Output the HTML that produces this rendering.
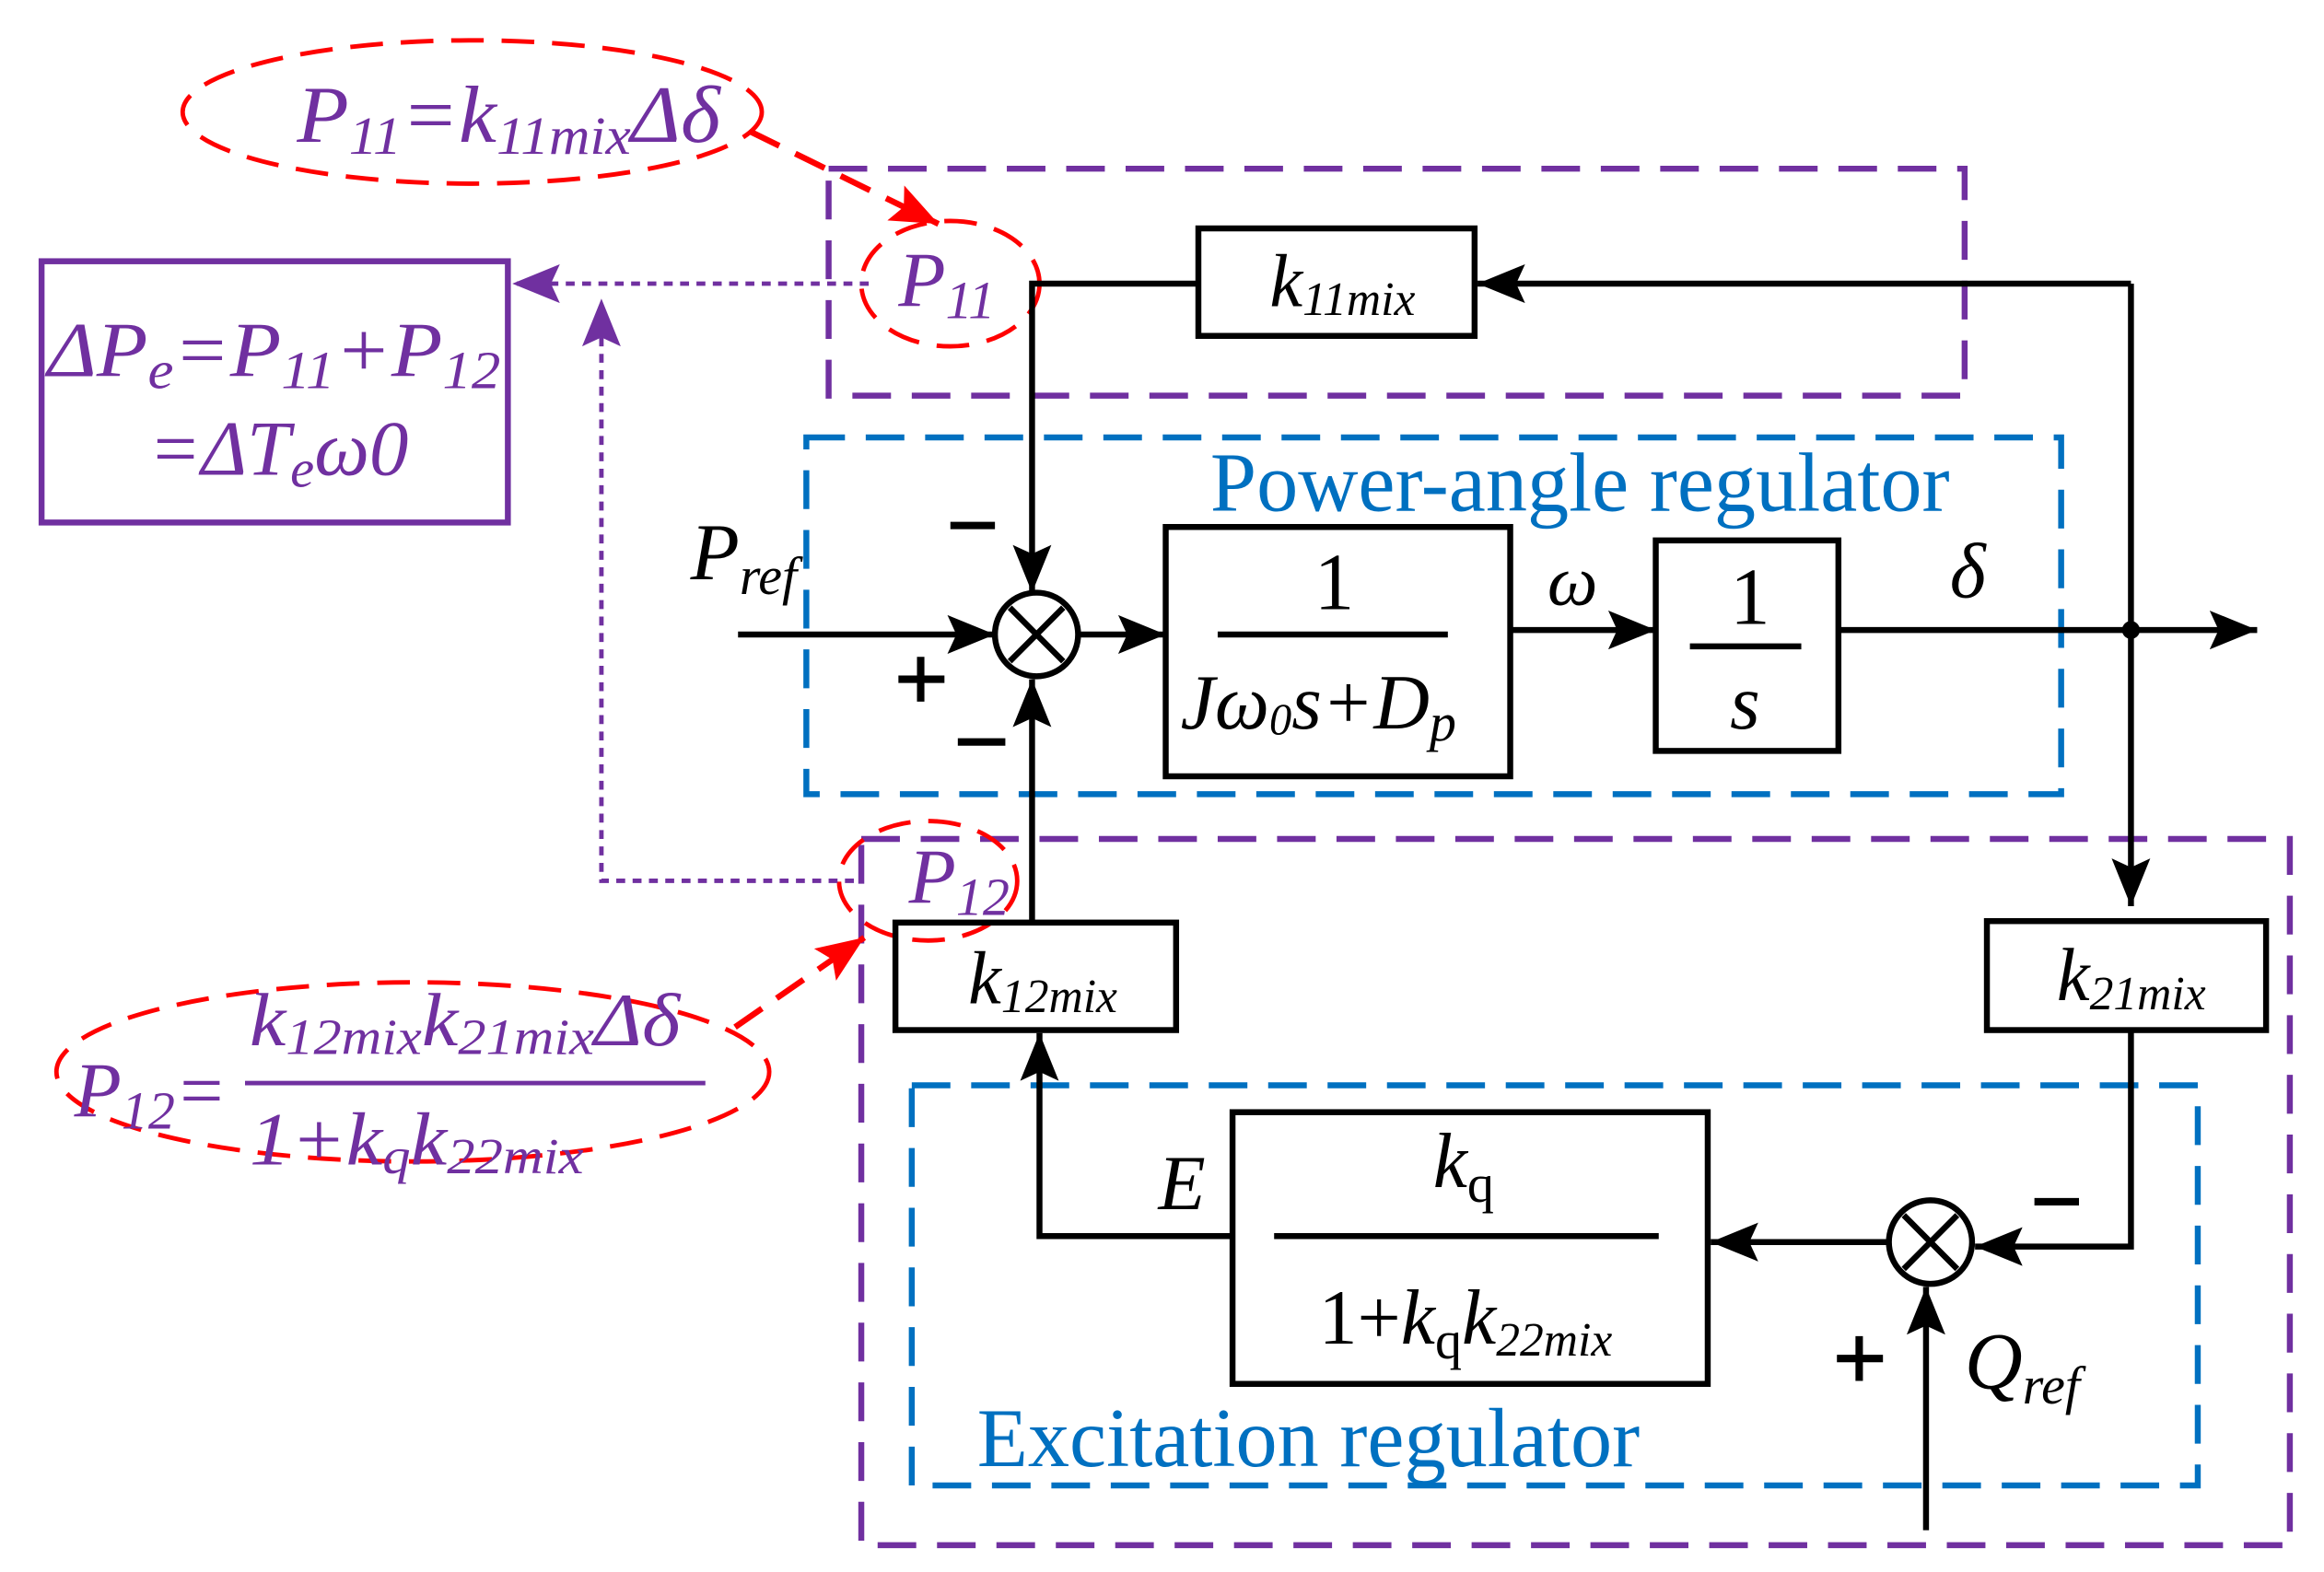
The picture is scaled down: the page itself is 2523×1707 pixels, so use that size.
<!DOCTYPE html>
<html><head><meta charset="utf-8"><style>
html,body{margin:0;padding:0;background:#fff}
svg{display:block}
text{font-family:"Liberation Serif",serif}
.it{font-style:italic}
</style></head><body>
<svg width="2523" height="1707" viewBox="0 0 1565 1053" preserveAspectRatio="none" xmlns="http://www.w3.org/2000/svg">
<defs>
<marker id="abk" markerWidth="32" markerHeight="26" refX="32" refY="13" orient="auto" markerUnits="userSpaceOnUse"><path d="M0,0 L32,13 L0,26 L6,13 z" fill="#000"/></marker>
<marker id="apr" markerWidth="32" markerHeight="26" refX="32" refY="13" orient="auto" markerUnits="userSpaceOnUse"><path d="M0,0 L32,13 L0,26 L6,13 z" fill="#7030a0"/></marker>
<marker id="ard" markerWidth="32" markerHeight="26" refX="32" refY="13" orient="auto" markerUnits="userSpaceOnUse"><path d="M0,0 L32,13 L0,26 L6,13 z" fill="#ff0000"/></marker>
</defs>
<g fill="none" stroke-width="4">
<rect x="558" y="113" width="765" height="152" stroke="#7030a0" stroke-dasharray="26,14"/>
<rect x="580" y="562" width="962" height="473" stroke="#7030a0" stroke-dasharray="26,14"/>
<rect x="543" y="293" width="845" height="239" stroke="#0070c0" stroke-dasharray="26,14"/>
<rect x="614" y="727" width="866" height="268" stroke="#0070c0" stroke-dasharray="26,14"/>
<ellipse cx="318" cy="75" rx="195" ry="48" stroke="#ff0000" stroke-width="3" stroke-dasharray="22,12"/>
<ellipse cx="640" cy="190" rx="60" ry="42" stroke="#ff0000" stroke-width="3" stroke-dasharray="22,12"/>
<ellipse cx="625" cy="590" rx="60" ry="40" stroke="#ff0000" stroke-width="3" stroke-dasharray="22,12"/>
<ellipse cx="278" cy="718" rx="240" ry="60" stroke="#ff0000" stroke-width="3" stroke-dasharray="22,12"/>
<path d="M505,88 L632,150" stroke="#ff0000" stroke-dasharray="22,12" marker-end="url(#ard)"/>
<path d="M495,688 L582,628" stroke="#ff0000" stroke-dasharray="22,12" marker-end="url(#ard)"/>
<rect x="28" y="175" width="314" height="175" stroke="#7030a0"/>
<path d="M585,190 L345,190" stroke="#7030a0" stroke-width="3" stroke-dasharray="6,5" marker-end="url(#apr)"/>
<path d="M575,590 L405,590 L405,200" stroke="#7030a0" stroke-width="3" stroke-dasharray="6,5" marker-end="url(#apr)"/>
<g stroke="#000">
<rect x="807" y="153" width="186" height="72"/>
<rect x="785" y="353" width="232" height="167"/>
<rect x="1115" y="362" width="123" height="141"/>
<rect x="1338" y="617" width="188" height="73"/>
<rect x="603" y="618" width="189" height="72"/>
<rect x="830" y="745" width="320" height="182"/>
<path d="M1435,190 L995,190" marker-end="url(#abk)"/>
<path d="M807,190 L695,190 L695,397" marker-end="url(#abk)"/>
<circle cx="698" cy="425" r="28"/>
<path d="M680,407 L716,443 M716,407 L680,443"/>
<path d="M497,425 L670,425" marker-end="url(#abk)"/>
<path d="M727,425 L785,425" marker-end="url(#abk)"/>
<path d="M1017,422 L1115,422" marker-end="url(#abk)"/>
<path d="M1238,422 L1520,422" marker-end="url(#abk)"/>
<path d="M1435,190 L1435,607" marker-end="url(#abk)"/>
<path d="M695,618 L695,455" marker-end="url(#abk)"/>
<path d="M1435,690 L1435,835 L1330,835" marker-end="url(#abk)"/>
<circle cx="1300" cy="832" r="28"/>
<path d="M1282,814 L1318,850 M1318,814 L1282,850"/>
<path d="M1272,832 L1152,832" marker-end="url(#abk)"/>
<path d="M830,828 L700,828 L700,692" marker-end="url(#abk)"/>
<path d="M1297,1025 L1297,862" marker-end="url(#abk)"/>
<path d="M820,425 L975,425 M1138,433 L1213,433 M858,828 L1117,828"/>
<path d="M605,455 L636,455 M620,440 L620,470 M640,352 L670,352 M645,497 L677,497 M1237,910 L1268,910 M1252,895 L1252,925 M1370,805 L1400,805" stroke-width="5"/>
</g>
</g>
<circle cx="1435" cy="422" r="6" fill="#000"/>
<g fill="#7030a0">
<text x="200" y="95" font-size="54" class="it" textLength="285" lengthAdjust="spacingAndGlyphs">P<tspan font-size="36" dy="8">11</tspan><tspan dy="-8">=k</tspan><tspan font-size="36" dy="8">11mix</tspan><tspan dy="-8">Δδ</tspan></text>
<text x="605" y="205" font-size="52" class="it">P<tspan font-size="36" dy="8">11</tspan></text>
<text x="612" y="605" font-size="52" class="it">P<tspan font-size="36" dy="8">12</tspan></text>
<text x="32" y="252" font-size="52" class="it" textLength="305" lengthAdjust="spacingAndGlyphs">ΔP<tspan font-size="36" dy="8">e</tspan><tspan dy="-8">=P</tspan><tspan font-size="36" dy="8">11</tspan><tspan dy="-8">+P</tspan><tspan font-size="36" dy="8">12</tspan></text>
<text x="100" y="318" font-size="52" class="it" textLength="175" lengthAdjust="spacingAndGlyphs">=ΔT<tspan font-size="36" dy="8">e</tspan><tspan dy="-8">ω0</tspan></text>
<text x="50" y="748" font-size="52" class="it">P<tspan font-size="36" dy="8">12</tspan><tspan dy="-8">=</tspan></text>
<rect x="165" y="724" width="310" height="3"/>
<text x="168" y="700" font-size="50" class="it" textLength="290" lengthAdjust="spacingAndGlyphs">k<tspan font-size="34" dy="6">12mix</tspan><tspan dy="-6">k</tspan><tspan font-size="34" dy="6">21mix</tspan><tspan dy="-6">Δδ</tspan></text>
<text x="168" y="780" font-size="50" class="it" textLength="225" lengthAdjust="spacingAndGlyphs">1+k<tspan font-size="34" dy="6">q</tspan><tspan dy="-6">k</tspan><tspan font-size="34" dy="6">22mix</tspan></text>
</g>
<g fill="#0070c0" font-size="56">
<text x="815" y="342">Power-angle regulator</text>
<text x="658" y="982">Excitation regulator</text>
</g>
<g fill="#000">
<text x="855" y="205" font-size="50" class="it">k<tspan font-size="32" dy="6">11mix</tspan></text>
<text x="1385" y="670" font-size="50" class="it">k<tspan font-size="32" dy="6">21mix</tspan></text>
<text x="652" y="672" font-size="50" class="it">k<tspan font-size="32" dy="6">12mix</tspan></text>
<text x="465" y="388" font-size="54" class="it">P<tspan font-size="36" dy="10">ref</tspan></text>
<text x="885" y="408" font-size="54">1</text>
<text x="795" y="488" font-size="52" class="it">Jω<tspan font-size="30" dy="4">0</tspan><tspan dy="-4">s+D</tspan><tspan font-size="36" dy="8">p</tspan></text>
<text x="1042" y="405" font-size="48" class="it">ω</text>
<text x="1165" y="418" font-size="54">1</text>
<text x="1165" y="488" font-size="52" class="it">s</text>
<text x="1313" y="400" font-size="52" class="it">δ</text>
<text x="780" y="810" font-size="52" class="it">E</text>
<text x="965" y="795" font-size="52" class="it">k<tspan font-size="36" dy="10" font-style="normal">q</tspan></text>
<text x="888" y="900" font-size="52">1+<tspan class="it">k</tspan><tspan font-size="36" dy="10">q</tspan><tspan dy="-10" class="it">k</tspan><tspan font-size="32" dy="8" class="it">22mix</tspan></text>
<text x="1323" y="930" font-size="54" class="it">Q<tspan font-size="36" dy="10">ref</tspan></text>
</g>
</svg>
</body></html>
